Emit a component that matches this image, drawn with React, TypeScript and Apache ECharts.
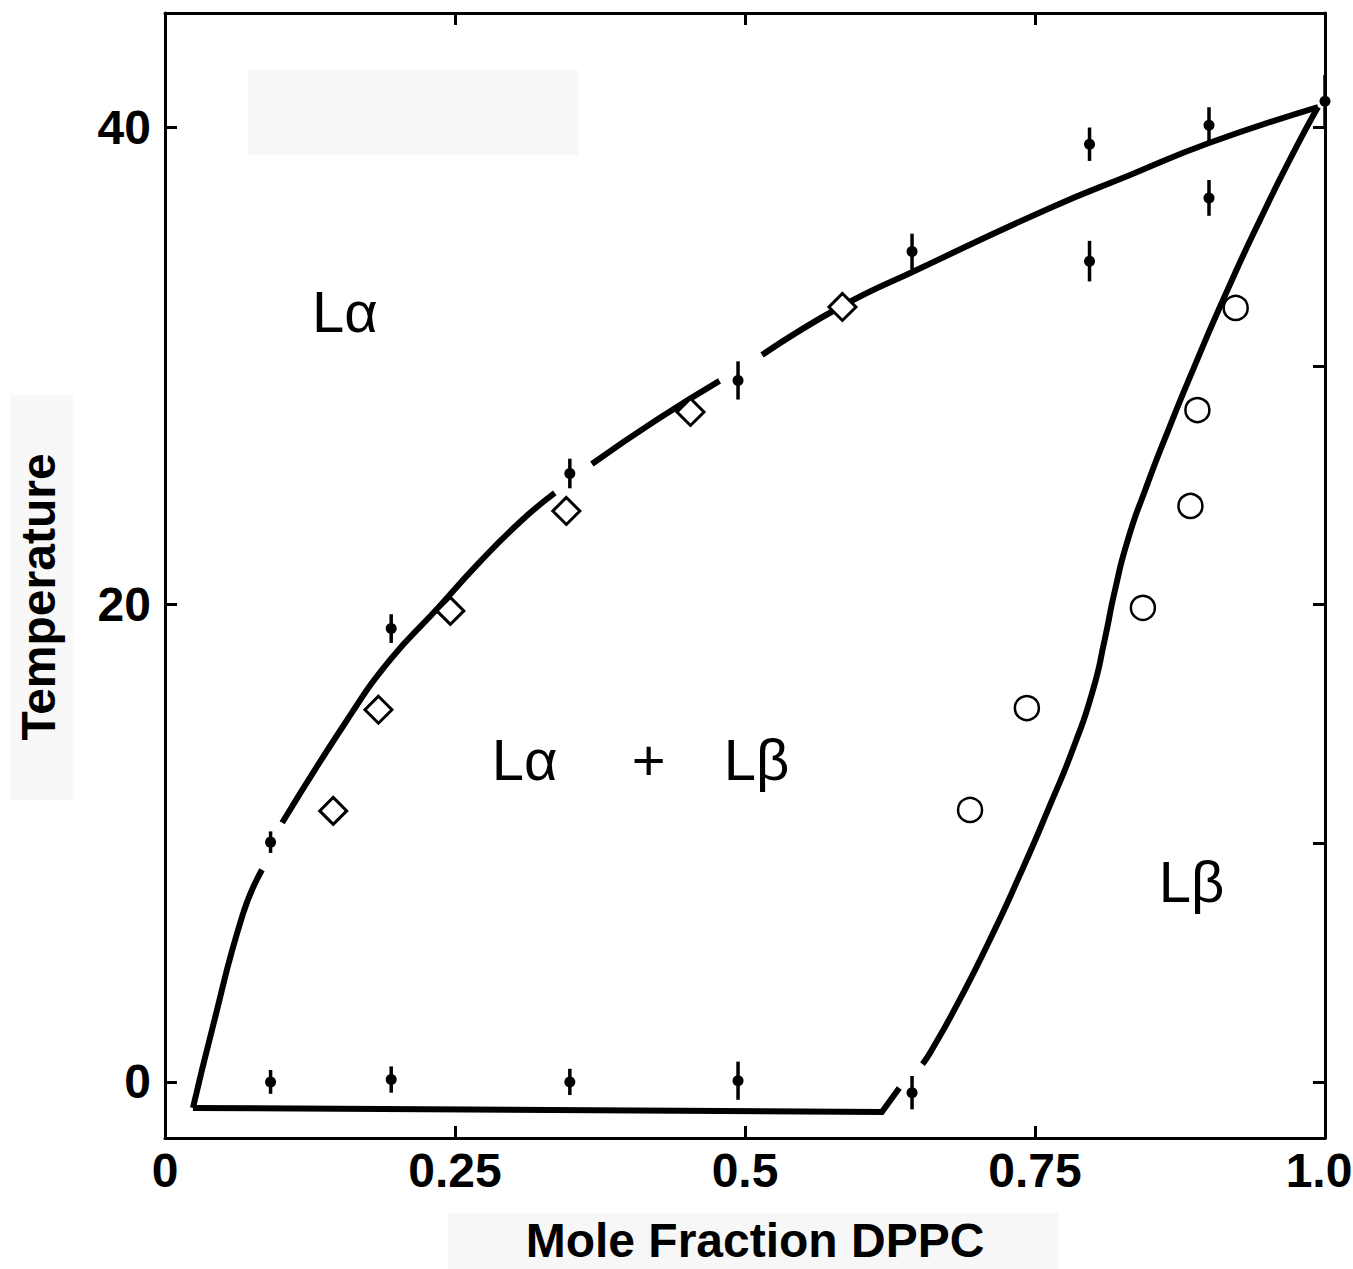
import React, { useEffect, useRef } from "react";
import * as echarts from "echarts";

// ---- Data ----
const xTickValues = [0, 0.25, 0.5, 0.75, 1.0];
const xTickLabels = ["0", "0.25", "0.5", "0.75", "1.0"];
const yLabelValues = [0, 20, 40];
const yLabels = ["0", "20", "40"];
const yMinorTicks = [0, 10, 20, 30, 40];

// liquidus (upper) curve, broken into segments where the original has gaps
const upperSegA = [[0.0241, -1.09], [0.0405, 2.18], [0.0672, 7.04], [0.0836, 8.89]];
const upperSegB = [[0.101, 10.86], [0.157, 15.17], [0.194, 17.69], [0.2345, 19.82], [0.269, 21.67], [0.306, 23.47], [0.336, 24.69]];
const upperSegC = [[0.368, 25.9], [0.424, 27.75], [0.478, 29.38]];
const upperSegD = [[0.5147, 30.47], [0.5836, 32.52], [0.648, 34.03], [0.763, 36.63], [0.832, 38.01], [0.9, 39.35], [0.994, 40.86]];
// bottom line with the corner
const bottomLine = [[0.0241, -1.09], [0.618, -1.26], [0.633, -0.25]];
// solidus (right) curve
const rightCurve = [[0.653, 0.75], [0.661, 1.34], [0.685, 3.44], [0.711, 5.95], [0.737, 8.68], [0.763, 11.61], [0.784, 14.12], [0.8, 16.43], [0.81, 18.52], [0.819, 20.62], [0.83, 22.72], [0.845, 24.81], [0.865, 27.33], [0.888, 30.05], [0.914, 32.98], [0.944, 36.13], [0.974, 39.06], [0.994, 40.86]];

// points with error bars: [x, T, halfError]
const errorPoints = [
  [0.091, 0.0, 0.5], [0.195, 0.1, 0.55], [0.349, 0.0, 0.55], [0.494, 0.05, 0.8], [0.644, -0.45, 0.7],
  [0.091, 10.05, 0.45], [0.195, 19.0, 0.6], [0.349, 25.5, 0.62], [0.494, 29.4, 0.8], [0.644, 34.8, 0.75],
  [0.797, 39.3, 0.7], [0.797, 34.4, 0.85], [0.9, 40.1, 0.75], [0.9, 37.05, 0.75], [1.0, 41.1, 1.1],
];
const diamonds = [[0.145, 11.36], [0.184, 15.6], [0.246, 19.74], [0.346, 23.93], [0.453, 28.08], [0.584, 32.48]];
const circles = [[0.694, 11.4], [0.743, 15.67], [0.843, 19.87], [0.884, 24.14], [0.89, 28.16], [0.923, 32.44]];

const regionLabels = [
  { text: "Lα", x: 0.155, y: 32.3 },
  { text: "Lα", x: 0.31, y: 13.5 },
  { text: "+", x: 0.417, y: 13.5 },
  { text: "Lβ", x: 0.51, y: 13.5 },
  { text: "Lβ", x: 0.885, y: 8.4 },
];

const X_MIN = 0, X_MAX = 1, Y_MIN = -2.35, Y_MAX = 44.8;

export default function App() {
  const ref = useRef<HTMLDivElement>(null);
  useEffect(() => {
    document.documentElement.style.overflow = "hidden";
    document.body.style.margin = "0";
    document.body.style.overflow = "hidden";
    const chart = echarts.init(ref.current!, null, { renderer: "svg", width: 1353, height: 1269 });
    const lineStyle = { color: "#000", width: 6, cap: "butt" as const, join: "miter" as const };
    const mkLine = (data: number[][], smooth: boolean | number) => ({
      type: "line",
      data,
      showSymbol: false,
      symbol: "none",
      smooth,
      lineStyle,
      z: 3,
      silent: true,
    });
    const fmtX = (v: number) => {
      const i = xTickValues.findIndex((t) => Math.abs(t - v) < 1e-6);
      if (i < 0) return "";
      return i === xTickValues.length - 1 ? `{last|${xTickLabels[i]}}` : xTickLabels[i];
    };
    const fmtY = (v: number) => {
      const i = yLabelValues.findIndex((t) => Math.abs(t - v) < 1e-6);
      return i >= 0 ? yLabels[i] : "";
    };
    const fontFamily = "Liberation Sans, Arial, sans-serif";
    const labelFont = { fontFamily, fontWeight: "bold" as const, fontSize: 48, color: "#000" };
    const axisLine = { show: true, onZero: false, lineStyle: { color: "#000", width: 3 } };
    const tick = { show: true, inside: true, length: 12, lineStyle: { color: "#000", width: 3 } };

    const gridLeft = 165, gridRight = 28, gridTop = 13, gridBottom = 131;
    const W = 1353, H = 1269;
    const px = (x: number) => gridLeft + ((x - X_MIN) / (X_MAX - X_MIN)) * (W - gridLeft - gridRight);
    const py = (y: number) => gridTop + ((Y_MAX - y) / (Y_MAX - Y_MIN)) * (H - gridTop - gridBottom);

    chart.setOption({
      animation: false,
      backgroundColor: "#fff",
      grid: { left: gridLeft, right: gridRight, top: gridTop, bottom: gridBottom, containLabel: false, outerBoundsMode: "none" },
      xAxis: [
        {
          type: "value", min: X_MIN, max: X_MAX, position: "bottom",
          axisLine, splitLine: { show: false },
          axisTick: { ...tick, customValues: [0.25, 0.5, 0.75] },
          axisLabel: {
            ...labelFont, margin: 8, customValues: xTickValues, formatter: fmtX,
            rich: { last: { ...labelFont, padding: [0, 12, 0, 0] } },
          },
        },
        {
          type: "value", min: X_MIN, max: X_MAX, position: "top",
          axisLine, splitLine: { show: false },
          axisTick: { ...tick, customValues: [0.25, 0.5, 0.75] },
          axisLabel: { show: false },
        },
      ],
      yAxis: [
        {
          type: "value", min: Y_MIN, max: Y_MAX, position: "left",
          axisLine, splitLine: { show: false },
          axisTick: { ...tick, customValues: yLabelValues },
          axisLabel: { ...labelFont, margin: 14, customValues: yLabelValues, formatter: fmtY },
        },
        {
          type: "value", min: Y_MIN, max: Y_MAX, position: "right",
          axisLine, splitLine: { show: false },
          axisTick: { ...tick, customValues: yMinorTicks },
          axisLabel: { show: false },
        },
      ],
      graphic: [
        { type: "rect", shape: { x: 248, y: 70, width: 330, height: 85 }, style: { fill: "#f7f7f7" }, z: -10, silent: true },
        { type: "rect", shape: { x: 10, y: 395, width: 63, height: 405 }, style: { fill: "#f8f8f8" }, z: -10, silent: true },
        { type: "rect", shape: { x: 448, y: 1213, width: 610, height: 56 }, style: { fill: "#f7f7f7" }, z: -10, silent: true },
        {
          type: "text", x: 755, y: 1240, z: 100,
          style: { text: "Mole Fraction DPPC", fontFamily, fontWeight: "bold", fontSize: 48, fill: "#000", align: "center", verticalAlign: "middle" },
        },
        {
          type: "text", x: 38, y: 597, rotation: Math.PI / 2, z: 100,
          style: { text: "Temperature", fontFamily, fontWeight: "bold", fontSize: 48, fill: "#000", align: "center", verticalAlign: "middle" },
        },
        ...regionLabels.map((r) => ({
          type: "text", x: px(r.x), y: py(r.y), z: 100,
          style: { text: r.text, fontFamily, fontSize: 58, fill: "#000", align: "center", verticalAlign: "middle" },
        })),
      ],
      series: [
        mkLine(upperSegA, 0.5),
        mkLine(upperSegB, 0.5),
        mkLine(upperSegC, 0.5),
        mkLine(upperSegD, 0.5),
        mkLine(bottomLine, false),
        mkLine(rightCurve, 0.6),
        {
          type: "custom",
          data: errorPoints,
          encode: { x: 0, y: 1 },
          z: 5,
          silent: true,
          renderItem: (params: any, api: any) => {
            const x = api.value(0), y = api.value(1), e = api.value(2);
            const p = api.coord([x, y]);
            const hi = api.coord([x, y + e]);
            const lo = api.coord([x, y - e]);
            return {
              type: "group",
              children: [
                { type: "line", shape: { x1: p[0], y1: hi[1], x2: p[0], y2: lo[1] }, style: { stroke: "#000", lineWidth: 3.5 } },
                { type: "circle", shape: { cx: p[0], cy: p[1], r: 5.5 }, style: { fill: "#000" } },
              ],
            };
          },
        },
        {
          type: "scatter", data: diamonds, symbol: "diamond", symbolSize: 27, z: 6, silent: true,
          itemStyle: { color: "#fff", borderColor: "#000", borderWidth: 3, opacity: 1 },
        },
        {
          type: "scatter", data: circles, symbol: "circle", symbolSize: 24, z: 6, silent: true,
          itemStyle: { color: "#fff", borderColor: "#000", borderWidth: 2.5, opacity: 1 },
        },
      ],
    });
    return () => chart.dispose();
  }, []);
  return <div ref={ref} style={{ position: "absolute", left: 0, top: 0, width: 1353, height: 1269 }} />;
}
